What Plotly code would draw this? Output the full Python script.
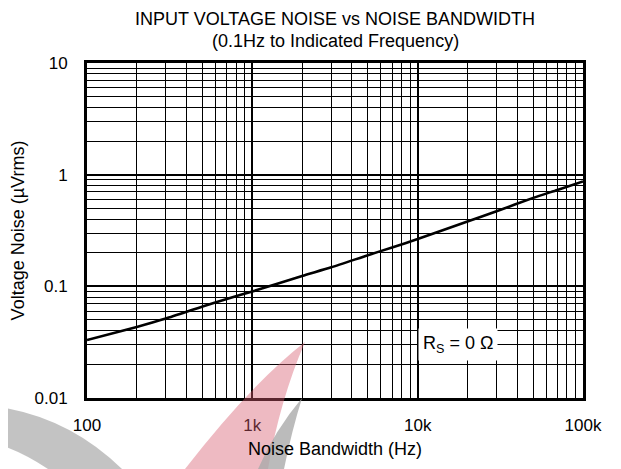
import math
import plotly.graph_objects as go

# Data
bandwidth_hz = [100, 200, 300, 500, 700, 1000, 2000, 3000, 5000, 7000,
                10000, 20000, 30000, 50000, 70000, 100000]
noise_uvrms = [0.033, 0.0433, 0.0515, 0.066, 0.077, 0.090, 0.124, 0.148, 0.19, 0.223,
               0.265, 0.38, 0.47, 0.62, 0.73, 0.87]

x_range_log = [2, 5]
y_range_log = [-2, 1]
x_label_alias = {"1000": "1k"}

title_lines = ["INPUT VOLTAGE NOISE vs NOISE BANDWIDTH", "(0.1Hz to Indicated Frequency)"]
label_text = "R<sub>S</sub> = 0 Ω"
label_x = 17500
label_y = 0.03

FONT = "Liberation Sans, Arial, Helvetica, sans-serif"
W, H = 621, 469
OFF = 8  # page body margin offset compensation

fig = go.Figure()
fig.add_trace(go.Scatter(
    x=bandwidth_hz, y=noise_uvrms, mode="lines",
    line=dict(color="black", width=2.6, shape="spline", smoothing=0.6),
    hoverinfo="skip",
))

# plot box in page pixels
L, R, T, B = 87, 583, 63, 398
def px(x, y):
    return f"{(x - L) / (R - L):.4f},{(B - y) / (B - T):.4f}"

# decorative watermark
wm_shapes = [
    dict(path=f"M {px(0,407)} Q {px(70,418)} {px(122,469)} L {px(48,469)} Q {px(22,452)} {px(0,445)} Z",
         fill="rgba(185,185,185,0.85)"),
    dict(path=f"M {px(305,342)} Q {px(250,385)} {px(185,469)} L {px(268,469)} Q {px(280,400)} {px(305,342)} Z",
         fill="rgba(215,90,110,0.42)"),
    dict(path=f"M {px(302,398)} Q {px(275,430)} {px(258,469)} L {px(284,469)} Q {px(292,430)} {px(302,398)} Z",
         fill="rgba(170,170,170,0.8)"),
]
for s in wm_shapes:
    fig.add_shape(type="path", path=s["path"], xref="paper", yref="paper",
                  fillcolor=s["fill"], line=dict(width=0), layer="above")

fig.add_annotation(
    x=math.log10(label_x), y=math.log10(label_y), xref="x", yref="y",
    text=label_text, showarrow=False, bgcolor="white", borderpad=4,
    font=dict(family=FONT, size=18, color="black"),
)

for line, ypix in zip(title_lines, [19, 41]):
    fig.add_annotation(
        x=0.5, y=(B - ypix) / (B - T), xref="paper", yref="paper",
        xanchor="center", yanchor="middle", showarrow=False, text=line,
        font=dict(family=FONT, size=18, color="black"),
    )

axis_common = dict(
    type="log", dtick=1, showline=True, mirror=True, linecolor="black", linewidth=3,
    showgrid=True, gridcolor="black", gridwidth=2, ticks="", zeroline=False,
    minor=dict(dtick="D1", showgrid=True, gridcolor="black", gridwidth=1, ticks=""),
    tickfont=dict(family=FONT, size=17, color="black"),
)

fig.update_xaxes(
    **axis_common, range=x_range_log, exponentformat="SI", labelalias=x_label_alias,
    ticklabelstandoff=10,
    title=dict(text="Noise Bandwidth (Hz)", font=dict(family=FONT, size=18, color="black"), standoff=8),
)
fig.update_yaxes(
    **axis_common, range=y_range_log, exponentformat="none", ticklabelstandoff=13,
    title=dict(text="Voltage Noise (µVrms)", font=dict(family=FONT, size=18, color="black"), standoff=9),
)

fig.update_layout(
    width=W, height=H,
    margin=dict(l=L - OFF, r=W - (R - OFF), t=T - OFF, b=H - (B - OFF), autoexpand=False),
    paper_bgcolor="white", plot_bgcolor="white",
    showlegend=False,
    font=dict(family=FONT, size=17, color="black"),
)

fig.write_html("out.html")
